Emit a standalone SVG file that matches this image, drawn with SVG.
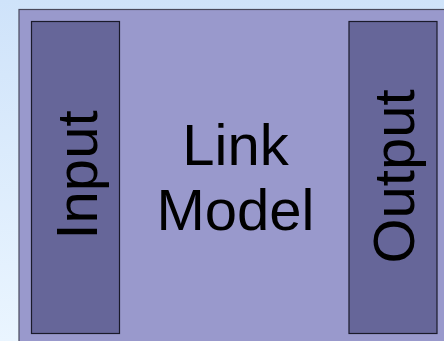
<svg xmlns="http://www.w3.org/2000/svg" width="444" height="341" viewBox="0 0 444 341">
  <defs>
    <linearGradient id="bg" x1="0" y1="0" x2="0" y2="1">
      <stop offset="0" stop-color="#cfe3fa"/>
      <stop offset="1" stop-color="#eaf5ff"/>
    </linearGradient>
    <style>
      .frame { fill: #9999cc; stroke: #4a4a5c; stroke-width: 1.2; }
      .port { fill: #666699; stroke: #1a1a2a; stroke-width: 1.2; }
      .lbl { font-family: "Liberation Sans", Arial, sans-serif; font-size: 58px; fill: #000; text-anchor: middle; }
    </style>
  </defs>

  <rect x="0" y="0" width="444" height="341" fill="url(#bg)"/>

  <g id="link-model">
    <rect class="frame" x="19" y="9.5" width="440" height="340"/>
    <text class="lbl" x="235.5" y="165">Link</text>
    <text class="lbl" x="235.5" y="230">Model</text>
  </g>

  <g id="input">
    <rect class="port" x="31.5" y="21.5" width="88" height="312"/>
    <text class="lbl" transform="translate(96.5,175) rotate(-90)">Input</text>
  </g>

  <g id="output">
    <rect class="port" x="349" y="21.5" width="88" height="312"/>
    <text class="lbl" transform="translate(414,176.5) rotate(-90)">Output</text>
  </g>

  <g id="connectors"/>
</svg>
